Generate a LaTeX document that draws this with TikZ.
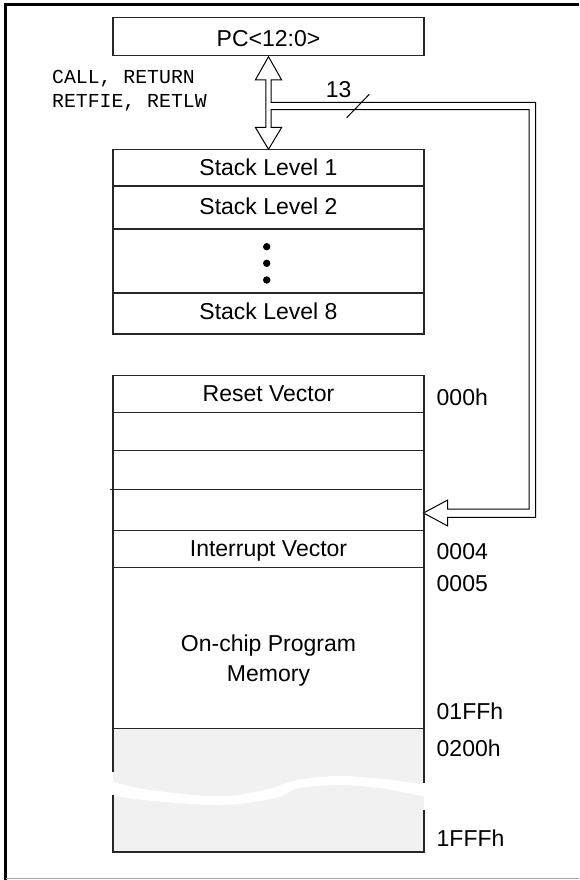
\documentclass[tikz,border=0pt]{standalone}
\usepackage{fontspec}
\setmainfont{Liberation Sans}
\newfontfamily\monof{Liberation Mono}
\begin{document}
\begin{tikzpicture}[x=1pt,y=-1pt,
  ln/.style={line width=1.2pt, draw=black!85},
  cell/.style={ln, rectangle, inner sep=0pt, minimum width=311pt},
  txt/.style={inner sep=0pt, anchor=base, font=\fontsize{23}{28}\selectfont},
  addr/.style={inner sep=0pt, anchor=base west, font=\fontsize{23}{28}\selectfont},
  mono/.style={inner sep=0pt, anchor=base west, font=\monof\fontsize{19.8}{24}\selectfont},
  hollow/.style={line width=1pt, draw=black, fill=white, line join=miter},
]
\useasboundingbox (0,0) rectangle (579,880);
% frame
\draw[line width=3pt] (5.5,880) -- (5.5,4.7) -- (579,4.7);
\draw[gray!70, line width=1pt] (5.5,878.5) -- (579,878.5);

% PC box
\node[cell, minimum height=38.4pt] (pc) at (268.5,36.5) {};
\node[txt] (pct) at (268.5,46.5) {PC<12:0>};

% labels
\node[mono] (call) at (52,83.5) {CALL, RETURN};
\node[mono] (retf) at (52,107.5) {RETFIE, RETLW};

% stack
\node[cell, minimum height=36.7pt] (s1) at (268.5,167.65) {};
\node[cell, minimum height=43pt] (s2) at (268.5,207.5) {};
\node[cell, minimum height=64pt] (sd) at (268.5,261) {};
\node[cell, minimum height=41pt] (s8) at (268.5,313.5) {};
\node[txt] (s1t) at (268.5,175.7) {Stack Level 1};
\node[txt] (s2t) at (268.5,214) {Stack Level 2};
\node[txt] (s8t) at (268.5,319) {Stack Level 8};
\fill (266.7,246.7) circle (3.7pt);
\fill (266.7,263.3) circle (3.7pt);
\fill (266.7,280) circle (3.7pt);

% hollow bus arrows
\coordinate (tipA) at (268.5,56.7);
\coordinate (tipB) at (268.5,149.3);
\coordinate (tipC) at (423.5,513);
\draw[hollow] (tipA) -- (281.7,80) -- (271.2,80) -- (271.2,102.3) -- (535.7,102.3)
  -- (535.7,517.3) -- (447.7,517.3) -- (447.7,526) -- (tipC) -- (447.7,500)
  -- (447.7,509) -- (529,509) -- (529,109.7) -- (271.2,109.7) -- (271.2,127.3)
  -- (281.7,127.3) -- (tipB) -- (255.3,127.3) -- (265.8,127.3) -- (265.8,80)
  -- (255.3,80) -- cycle;
\draw[line width=1pt] (346.7,117.7) -- (369.3,94.3);
\node[txt] (n13) at (338.7,97.3) {13};

% memory
\fill[gray!11] (113,728.5) rectangle (424,852);
\fill[white] plot[smooth] coordinates {(110,781) (143,789) (200,795.5) (235,795.5) (268,789) (300,779.5) (340,776) (383,779) (427,785)}
  -- plot[smooth] coordinates {(427,797) (383,788.5) (340,785) (300,788) (275,798) (233,804.5) (200,804.5) (143,800) (110,795)} -- cycle;
\draw[ln] (113,772) -- (113,375.3) -- (424,375.3) -- (424,783);
\draw[ln] (113,795) -- (113,852) -- (424,852) -- (424,810);
\draw[ln] (113,412.7) -- (424,412.7);
\draw[ln] (113,450.3) -- (424,450.3);
\draw[ln] (110,489.3) -- (421.7,489.3);
\draw[ln] (113,530.7) -- (424,530.7);
\draw[ln] (113,567.7) -- (424,567.7);
\draw[ln] (113,728.5) -- (424,728.5);

\node[txt] (rv) at (268.5,401.7) {Reset Vector};
\node[txt] (iv) at (268.5,556.7) {Interrupt Vector};
\node[txt] (op1) at (268.5,651.7) {On-chip Program};
\node[txt] (op2) at (268.5,681.7) {Memory};

\node[addr] (a0) at (436.5,405) {000h};
\node[addr] (a4) at (436.5,559) {0004};
\node[addr] (a5) at (436.5,591.7) {0005};
\node[addr] (a1ff) at (436.5,719) {01FFh};
\node[addr] (a200) at (436.5,756.7) {0200h};
\node[addr] (a1fff) at (436.5,846.7) {1FFFh};
\end{tikzpicture}
\end{document}
